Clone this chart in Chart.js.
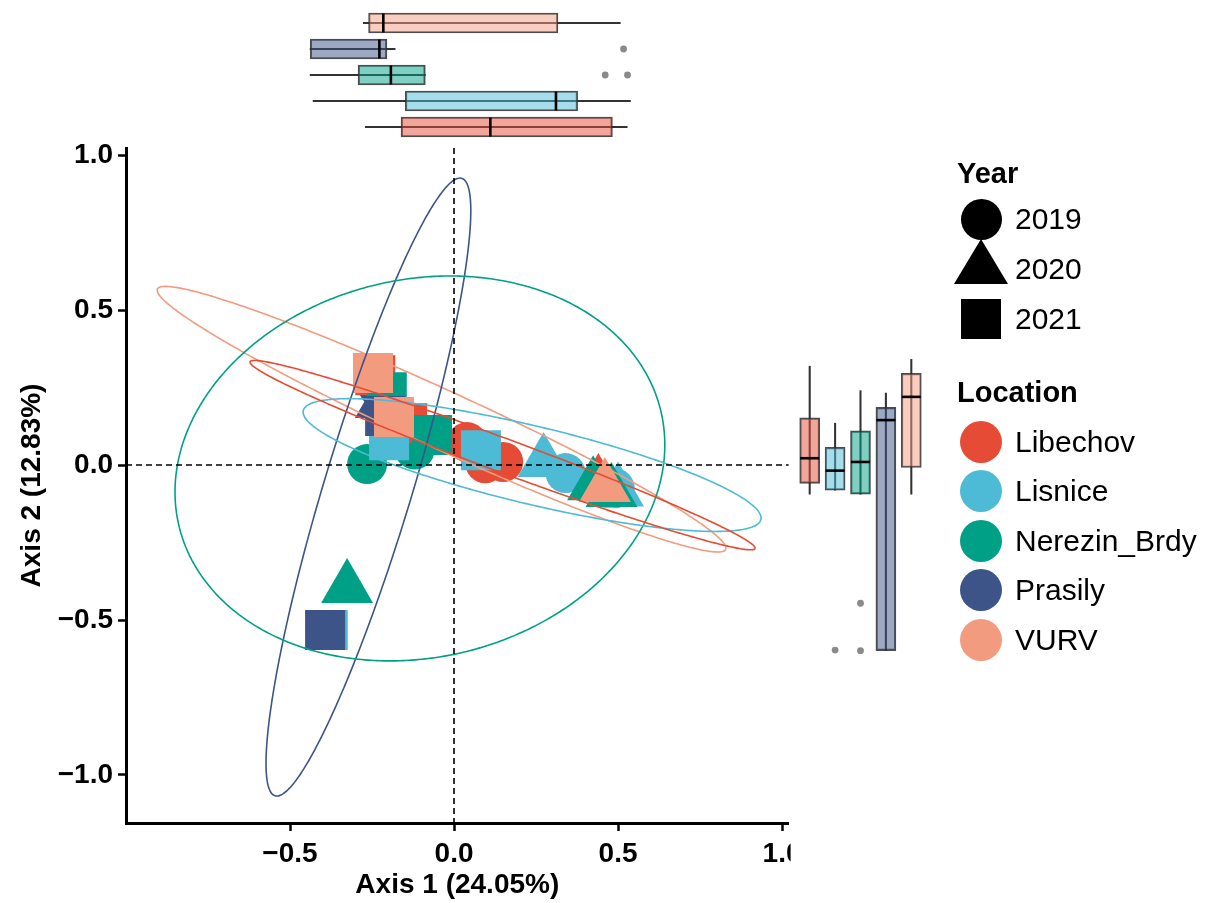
<!DOCTYPE html>
<html>
<head>
<meta charset="utf-8">
<title>PCoA by location and year</title>
<script src="https://cdn.jsdelivr.net/npm/chart.js@4.4.1/dist/chart.umd.min.js"></script>
<style>
  body { margin: 0; background: #fff; }
  #wrap { position: relative; width: 1209px; height: 903px; overflow: hidden;
          font-family: 'Liberation Sans', Arial, Helvetica, sans-serif; color: #000; }
  #wrap canvas { position: absolute; }
  #mainChart { left: 0; top: 0; }
  #topBox { left: 126px; top: 10px; }
  #rightBox { left: 797px; top: 148px; }
  .lg-text { position: absolute; line-height: 1; white-space: nowrap; transform: translateY(-50%); }
  .lg-title { font-weight: bold; font-size: 29px; }
  .lg-label { font-size: 30px; }
  .lg-mark { position: absolute; }
</style>
</head>
<body>
<div id="wrap">
  <canvas id="mainChart" width="1209" height="903"></canvas>
  <canvas id="topBox" width="663" height="130"></canvas>
  <canvas id="rightBox" width="127" height="675"></canvas>
  <div id="legend"></div>
</div>
<script>
// categories
const locations = ['Libechov', 'Lisnice', 'Nerezin_Brdy', 'Prasily', 'VURV'];
const years = ['2019', '2020', '2021'];

// PCoA scores, [axis 1, axis 2]
const libechov2019 = [[0.04, 0.074], [0.095, 0.006], [0.15, 0.01]];
const libechov2020 = [[0.44, -0.058]];
const libechov2021 = [[-0.24, 0.29], [-0.143, 0.135]];
const lisnice2019 = [[0.34, -0.026], [0.49, -0.075]];
const lisnice2020 = [[0.273, 0.01], [0.50, -0.085]];
const lisnice2021 = [[-0.198, 0.08], [0.082, 0.048], [-0.385, -0.532]];
const nerezin2019 = [[-0.265, 0.003], [-0.12, 0.05]];
const nerezin2020 = [[-0.326, -0.397], [0.424, -0.065], [0.48, -0.087]];
const nerezin2021 = [[-0.067, 0.097], [-0.205, 0.235]];
const prasily2019 = [[-0.23, 0.25]];
const prasily2020 = [[-0.223, 0.2]];
const prasily2021 = [[-0.21, 0.158], [-0.393, -0.532]];
const vurv2019 = [[0.47, -0.075]];
const vurv2020 = [[0.46, -0.071]];
const vurv2021 = [[-0.247, 0.297], [-0.183, 0.155]];

// ellipses per location: centre and two conjugate half axes
const ellipseCentre = [[0.148, 0.032], [0.238, 0.0], [-0.104, -0.011], [-0.261, -0.071], [-0.038, 0.148]];
const ellipseAxisU = [[0.770, -0.300], [0.698, -0.171], [0.0915, 0.621], [0.279, 0.997], [0.867, -0.416]];
const ellipseAxisV = [[0, 0.058], [0, 0.129], [0.741, 0], [0.140, 0], [0, 0.103]];

// marginal box plots (same order as locations)
const axis1Low = [-0.271, -0.430, -0.439, -0.439, -0.277];
const axis1Q1 = [-0.162, -0.149, -0.293, -0.439, -0.261];
const axis1Median = [0.110, 0.310, -0.193, -0.228, -0.216];
const axis1Q3 = [0.482, 0.376, -0.088, -0.205, 0.316];
const axis1High = [0.527, 0.537, -0.088, -0.180, 0.506];
const axis1Outliers = [['Prasily', 0.516], ['Nerezin_Brdy', 0.460], ['Nerezin_Brdy', 0.528]];

const axis2Low = [-0.094, -0.081, -0.094, -0.599, -0.094];
const axis2Q1 = [-0.059, -0.081, -0.094, -0.599, -0.008];
const axis2Median = [0.022, -0.018, 0.010, 0.145, 0.220];
const axis2Q3 = [0.152, 0.057, 0.110, 0.186, 0.296];
const axis2High = [0.319, 0.135, 0.240, 0.232, 0.341];
const axis2Outliers = [['Lisnice', -0.597], ['Nerezin_Brdy', -0.446], ['Nerezin_Brdy', -0.599]];

// tick labels
const axis1Ticks = [-0.5, 0, 0.5, 1.0];
const axis2Ticks = [-1.0, -0.5, 0, 0.5, 1.0];

const scores = {
    Libechov: [libechov2019, libechov2020, libechov2021],
    Lisnice: [lisnice2019, lisnice2020, lisnice2021],
    Nerezin_Brdy: [nerezin2019, nerezin2020, nerezin2021],
    Prasily: [prasily2019, prasily2020, prasily2021],
    VURV: [vurv2019, vurv2020, vurv2021]
};

// styles
const locColors = ['#E64B35', '#4DBBD5', '#00A087', '#3C5488', '#F39B7F'];
const boxFills = locColors.map(c => c + '80');
const yearShape = ['circle', 'triangle', 'rect'];
const yearRadius = [20, 30, 28.3];
const boxLine = 'rgba(45,45,45,0.85)';

Chart.defaults.font.family = "'Liberation Sans', Arial, Helvetica, sans-serif";
Chart.defaults.color = '#000';

let fmt = function (v) {
    return Number(v).toFixed(1).replace('-', '\u2212');
};

// points: year by year, location by location, later ones on top
let pointSets = [];
years.forEach(function (yr, yi) {
    locations.forEach(function (loc, li) {
        pointSets.push({
            label: loc + ' ' + yr,
            data: scores[loc][yi].map(p => ({ x: p[0], y: p[1] })),
            pointStyle: yearShape[yi],
            pointRadius: yearRadius[yi],
            pointBackgroundColor: locColors[li],
            pointBorderWidth: 0,
            order: 100 - pointSets.length
        });
    });
});

let ellipseSets = locations.map(function (loc, li) {
    const c = ellipseCentre[li], u = ellipseAxisU[li], v = ellipseAxisV[li];
    let pts = [];
    for (let k = 0; k <= 240; k++) {
        const t = 2 * Math.PI * k / 240;
        pts.push({
            x: c[0] + u[0] * Math.cos(t) + v[0] * Math.sin(t),
            y: c[1] + u[1] * Math.cos(t) + v[1] * Math.sin(t)
        });
    }
    return {
        label: loc + ' ellipse',
        data: pts,
        showLine: true,
        tension: 0.1,
        borderColor: locColors[li],
        borderWidth: 1.6,
        pointRadius: 0,
        fill: false,
        order: li
    };
});

const zeroLines = {
    id: 'zeroLines',
    afterDatasetsDraw(chart) {
        const { ctx, chartArea, scales } = chart;
        const x0 = scales.x.getPixelForValue(0);
        const y0 = scales.y.getPixelForValue(0);
        ctx.save();
        ctx.strokeStyle = '#000';
        ctx.lineWidth = 1.6;
        ctx.setLineDash([6, 4]);
        ctx.beginPath();
        ctx.moveTo(x0, chartArea.top);
        ctx.lineTo(x0, chartArea.bottom);
        ctx.moveTo(chartArea.left, y0);
        ctx.lineTo(chartArea.right, y0);
        ctx.stroke();
        ctx.restore();
    }
};

// the panel cuts the last x label in the original
const cutLastLabel = {
    id: 'cutLastLabel',
    afterDraw(chart) {
        const { ctx, chartArea } = chart;
        ctx.save();
        ctx.fillStyle = '#fff';
        ctx.fillRect(chartArea.right + 2, chartArea.bottom + 9, 60, 50);
        ctx.restore();
    }
};

new Chart(document.getElementById('mainChart'), {
    type: 'scatter',
    data: { datasets: pointSets.concat(ellipseSets) },
    options: {
        responsive: false,
        animation: false,
        layout: { autoPadding: false, padding: { left: 0, top: 148, right: 420.4, bottom: 0 } },
        plugins: { legend: { display: false }, tooltip: { enabled: false } },
        scales: {
            x: {
                type: 'linear', min: -1.0, max: 1.02,
                afterFit: function (s) { s.height = 80; },
                afterBuildTicks: function (s) { s.ticks = axis1Ticks.map(v => ({ value: v })); },
                grid: { drawOnChartArea: false, tickLength: 8, tickWidth: 2.5, tickColor: '#000' },
                border: { color: '#000', width: 3 },
                ticks: { color: '#000', font: { size: 28, weight: 'bold' }, padding: 6,
                         maxRotation: 0, autoSkip: false, callback: fmt },
                title: { display: true, text: 'Axis 1 (24.05%)', color: '#000',
                         font: { size: 28, weight: 'bold' }, padding: { top: 0, bottom: 1 } }
            },
            y: {
                type: 'linear', min: -1.155, max: 1.023,
                afterFit: function (s) { s.width = 126; },
                afterBuildTicks: function (s) { s.ticks = axis2Ticks.map(v => ({ value: v })); },
                grid: { drawOnChartArea: false, tickLength: 8, tickWidth: 2.5, tickColor: '#000' },
                border: { color: '#000', width: 3 },
                ticks: { color: '#000', font: { size: 28, weight: 'bold' }, padding: 5,
                         autoSkip: false, callback: fmt },
                title: { display: true, text: 'Axis 2 (12.83%)', color: '#000',
                         font: { size: 28, weight: 'bold' }, padding: { top: 15, bottom: 0 } }
            }
        }
    },
    plugins: [zeroLines, cutLastLabel]
});

function boxDatasets(low, q1, med, q3, high, outliers, across) {
    return [
        {
            type: 'line', label: 'outliers',
            data: outliers.map(o => across ? { x: o[1], y: o[0] } : { x: o[0], y: o[1] }),
            showLine: false, pointRadius: 3.4, pointBackgroundColor: '#8a8a8a', pointBorderWidth: 0,
            order: 0
        },
        {
            type: 'line', label: 'median', data: med, showLine: false,
            pointStyle: 'line', pointRotation: across ? 90 : 0, pointRadius: 9.5,
            pointBorderColor: '#000', pointBorderWidth: 2.6, order: 1
        },
        {
            type: 'bar', label: 'box', data: q1.map((v, i) => [v, q3[i]]),
            backgroundColor: boxFills, borderColor: boxLine, borderWidth: 1.5,
            borderSkipped: false, barThickness: 20, grouped: false, order: 2
        },
        {
            type: 'bar', label: 'whisker', data: low.map((v, i) => [v, high[i]]),
            backgroundColor: '#333', barThickness: 1.4, grouped: false, order: 3
        }
    ];
}

// top margin: axis 1 by location
new Chart(document.getElementById('topBox'), {
    type: 'bar',
    data: {
        labels: locations,
        datasets: boxDatasets(axis1Low, axis1Q1, axis1Median, axis1Q3, axis1High, axis1Outliers, true)
    },
    options: {
        indexAxis: 'y',
        responsive: false,
        animation: false,
        layout: { autoPadding: false, padding: 0 },
        plugins: { legend: { display: false }, tooltip: { enabled: false } },
        scales: {
            x: { type: 'linear', min: -1.0, max: 1.02, display: false },
            y: { type: 'category', reverse: true, offset: true, display: false }
        }
    }
});

// right margin: axis 2 by location
new Chart(document.getElementById('rightBox'), {
    type: 'bar',
    data: {
        labels: locations,
        datasets: boxDatasets(axis2Low, axis2Q1, axis2Median, axis2Q3, axis2High, axis2Outliers, false)
    },
    options: {
        responsive: false,
        animation: false,
        layout: { autoPadding: false, padding: 0 },
        plugins: { legend: { display: false }, tooltip: { enabled: false } },
        scales: {
            x: { type: 'category', offset: true, display: false },
            y: { type: 'linear', min: -1.155, max: 1.023, display: false }
        }
    }
});

// legend
let legendNode = document.getElementById('legend');

function legendText(text, cls, left, mid) {
    let d = document.createElement('div');
    d.className = 'lg-text ' + cls;
    d.textContent = text;
    d.style.left = left + 'px';
    d.style.top = mid + 'px';
    legendNode.append(d);
}

function legendMark(shape, color, cx, cy, size) {
    let m = document.createElement('div');
    m.className = 'lg-mark';
    m.style.background = color;
    if (shape === 'triangle') {
        m.style.width = '54px';
        m.style.height = '45px';
        m.style.left = (cx - 27) + 'px';
        m.style.top = (cy - 30) + 'px';
        m.style.clipPath = 'polygon(50% 0, 100% 100%, 0 100%)';
    } else {
        m.style.width = size + 'px';
        m.style.height = size + 'px';
        m.style.left = (cx - size / 2) + 'px';
        m.style.top = (cy - size / 2) + 'px';
        if (shape === 'circle') m.style.borderRadius = '50%';
    }
    legendNode.append(m);
}

legendText('Year', 'lg-title', 957, 173);
const yearRows = [219, 269, 319];
years.forEach(function (yr, yi) {
    legendMark(yearShape[yi], '#000', 981, yearRows[yi], yi === 0 ? 41 : 40);
    legendText(yr, 'lg-label', 1015, yearRows[yi]);
});

legendText('Location', 'lg-title', 957, 392);
locations.forEach(function (loc, li) {
    const mid = 441.5 + li * 49.6;
    legendMark('circle', locColors[li], 981, mid, 42);
    legendText(loc, 'lg-label', 1015, mid);
});
</script>
</body>
</html>
